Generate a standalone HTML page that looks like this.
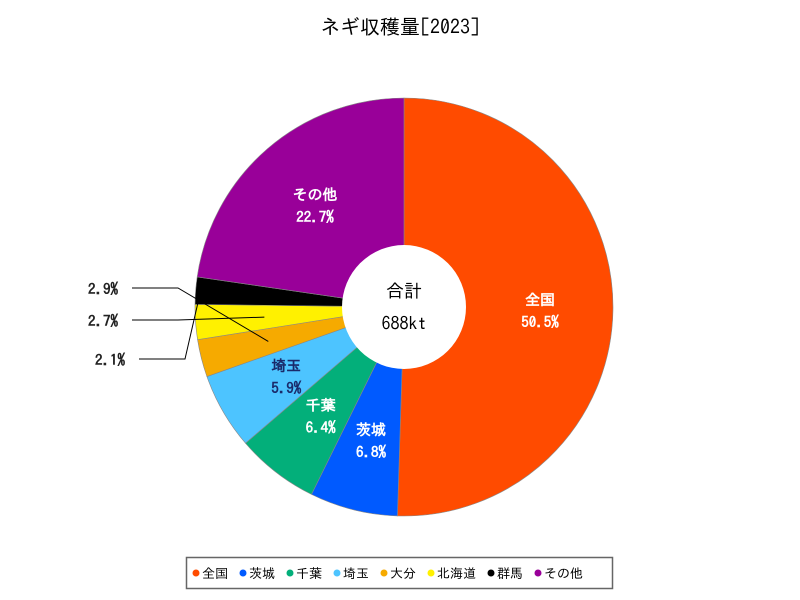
<!DOCTYPE html>
<html><head><meta charset="utf-8">
<style>
body{margin:0;background:#fff;}
svg{display:block;font-family:"IPAGothic","Liberation Sans","Noto Sans CJK JP",sans-serif;}
</style></head>
<body>
<svg id="chart" width="800" height="600" viewBox="0 0 800 600">
<text x="400" y="34" text-anchor="middle" font-size="20" fill="#000">ネギ収穫量[2023]</text>
<g id="slices"></g>
<g id="labels"></g>
<circle cx="404" cy="307" r="62" fill="#fff"/>
<text x="404" y="297" text-anchor="middle" font-size="18">合計</text>
<text x="404" y="330" text-anchor="middle" font-size="18">688kt</text>
<g id="legend">
<rect x="186.5" y="557.5" width="426" height="31" fill="#fff" stroke="#666" stroke-width="1.5"/>
</g>
</svg>
<script>
const categories=["全国","茨城","千葉","埼玉","大分","北海道","群馬","その他"];
const values=[50.5,6.8,6.4,5.9,2.9,2.7,2.1,22.7];
const colors=["#ff4b00","#005aff","#03af7a","#4dc4ff","#f6aa00","#fff100","#000000","#990099"];
const NS="http://www.w3.org/2000/svg";
const cx=404,cy=307,R=209,r0=62;
const total=values.reduce((a,b)=>a+b,0);
function pt(a,rad){return [cx+rad*Math.sin(a),cy-rad*Math.cos(a)];}
const gs=document.getElementById('slices'),gl=document.getElementById('labels');
let acc=0;
const outside=[[128,291],[128,323],[135,362]];
let oi=0;
values.forEach((v,i)=>{
  const a0=acc/total*2*Math.PI; acc+=v; const a1=acc/total*2*Math.PI;
  const p0=pt(a0,R),p1=pt(a1,R),large=(a1-a0)>Math.PI?1:0;
  const p=document.createElementNS(NS,'path');
  p.setAttribute('d',`M${cx},${cy} L${p0[0]},${p0[1]} A${R},${R} 0 ${large} 1 ${p1[0]},${p1[1]} Z`);
  p.setAttribute('fill',colors[i]);p.setAttribute('stroke','#888');p.setAttribute('stroke-width','0.6');
  
  
  gs.appendChild(p);
  const am=(a0+a1)/2;
  if(v>=5){
    const m=pt(am,136);
    const fill=i===3?'#1a2a6a':'#fff';
    [[categories[i],m[1]-4],[v.toFixed(1)+'%',m[1]+18]].forEach((t,k)=>{
      const tx=document.createElementNS(NS,'text');
      tx.setAttribute('x',m[0]);tx.setAttribute('y',t[1]);tx.setAttribute('text-anchor','middle');
      tx.setAttribute('font-size','15');tx.setAttribute('font-weight','bold');tx.setAttribute('fill',fill);
      tx.textContent=t[0];
      
      
      gl.appendChild(tx);
    });
  }else{
    const o=outside[oi++]||[128,300];
    const e=pt(am,v<2.5?R-5:140);
    const ln=document.createElementNS(NS,'polyline');
    ln.setAttribute('points',`${o[0]+4},${o[1]-3} ${o[0]+50},${o[1]-3} ${e[0]},${e[1]}`);
    ln.setAttribute('fill','none');ln.setAttribute('stroke','#000');ln.setAttribute('stroke-width','1');
    
    
    gl.appendChild(ln);
    const tx=document.createElementNS(NS,'text');
    tx.setAttribute('x',o[0]-10);tx.setAttribute('y',o[1]+3);tx.setAttribute('text-anchor','end');
    tx.setAttribute('font-size','15');tx.setAttribute('font-weight','bold');tx.setAttribute('fill','#222');
    tx.textContent=v.toFixed(1)+'%';
    
    
    gl.appendChild(tx);
  }
});
const lg=document.getElementById('legend');
let lx=192;
categories.forEach((c,i)=>{
  const ci=document.createElementNS(NS,'circle');
  ci.setAttribute('cx',lx+4);ci.setAttribute('cy',573);ci.setAttribute('r',3.5);ci.setAttribute('fill',colors[i]);
  
  
  lg.appendChild(ci);
  const t=document.createElementNS(NS,'text');
  t.setAttribute('x',lx+10);t.setAttribute('y',578);t.setAttribute('font-size','13');
  t.textContent=c;
  
  
  lg.appendChild(t);
  lx+=10+c.length*13+11;
});
</script>
</body></html>
